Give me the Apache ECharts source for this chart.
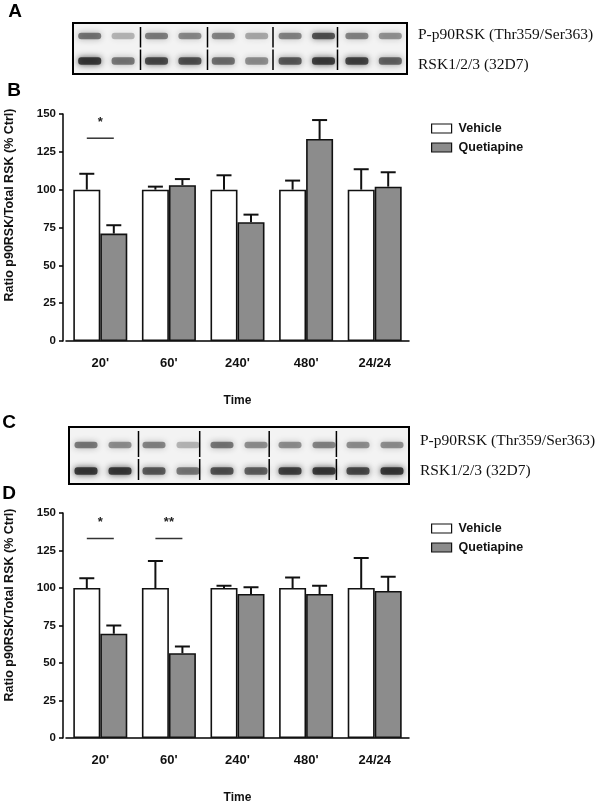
<!DOCTYPE html>
<html>
<head>
<meta charset="utf-8">
<script src="https://cdn.jsdelivr.net/npm/echarts@6/dist/echarts.min.js"></script>
<style>
html,body{margin:0;padding:0;background:#fff;}
#chart{width:600px;height:805px;}
</style>
</head>
<body>
<div id="chart"></div>
<script>
// ---------- data ----------
const categories = ["20'", "60'", "240'", "480'", "24/24"];
const seriesNames = ['Vehicle', 'Quetiapine'];

// Panel B
const vehicleB = [100, 100, 100, 100, 100];
const vehicleSemB = [10.5, 2, 9.5, 6, 13.5];
const quetiapineB = [71, 103, 78.5, 133.5, 102];
const quetiapineSemB = [5.5, 4, 5, 12.5, 9.5];
const sigB = [[0, 134, '*']];

// Panel D
const vehicleD = [100, 100, 100, 100, 100];
const vehicleSemD = [6.5, 18, 1.5, 7, 20];
const quetiapineD = [69.5, 56.5, 96, 96, 98];
const quetiapineSemD = [5.5, 4.5, 4.5, 5.5, 9.5];
const sigD = [[0, 133, '*'], [1, 133, '**']];

const yTicks = [0, 25, 50, 75, 100, 125, 150];

// Western blot band darkness (decorative images, 10 lanes)
const blotA_row1 = [0.62, 0.32, 0.58, 0.52, 0.55, 0.38, 0.55, 0.8, 0.55, 0.48];
const blotA_row2 = [0.95, 0.6, 0.85, 0.8, 0.65, 0.5, 0.75, 0.92, 0.88, 0.7];
const blotC_row1 = [0.6, 0.5, 0.55, 0.32, 0.62, 0.5, 0.5, 0.55, 0.5, 0.5];
const blotC_row2 = [0.95, 0.95, 0.75, 0.6, 0.8, 0.72, 0.9, 0.95, 0.85, 0.95];
const blotLabels = ['P-p90RSK (Thr359/Ser363)', 'RSK1/2/3 (32D7)'];

// ---------- helpers ----------
const SANS = "'Liberation Sans', Arial, sans-serif";
const SERIF = "'Liberation Serif', 'Times New Roman', serif";
const GRAY = '#8c8c8c';
const BAR_W = 27;

function errData(means, sems) {
  return means.map((m, i) => [i, m, m + sems[i]]);
}
function errRender(sign) {
  return function (params, api) {
    const p0 = api.coord([api.value(0), api.value(1)]);
    const p1 = api.coord([api.value(0), api.value(2)]);
    const cx = p0[0] + sign * BAR_W / 2;
    const style = { stroke: '#111', lineWidth: 2 };
    return {
      type: 'group',
      children: [
        { type: 'line', shape: { x1: cx, y1: p0[1], x2: cx, y2: p1[1] }, style },
        { type: 'line', shape: { x1: cx - 7.5, y1: p1[1], x2: cx + 7.5, y2: p1[1] }, style }
      ]
    };
  };
}
function sigRender(params, api) {
  const p = api.coord([api.value(0), api.value(1)]);
  const ps = api.coord([api.value(0), api.value(1) + 12]);
  return {
    type: 'group',
    children: [
      { type: 'line', shape: { x1: p[0] - 13.5, y1: p[1], x2: p[0] + 13.5, y2: p[1] },
        style: { stroke: '#333', lineWidth: 1.5 } },
      { type: 'text', x: p[0], y: ps[1] + 2,
        style: { text: api.value(2), fill: '#222', font: 'bold 13px ' + SANS,
                 textAlign: 'center', textVerticalAlign: 'middle' } }
    ]
  };
}

function blot(x, y, w, h, row1, row2, rowY1, rowY2, dividers, textY1, textY2) {
  const els = [];
  els.push({ type: 'rect', shape: { x: x, y: y, width: w, height: h },
    style: { fill: '#f3f3f3', stroke: '#000', lineWidth: 2 } });
  const pitch = w / 10;
  [[row1, rowY1, 6.5], [row2, rowY2, 7.5]].forEach(([row, ry, bh]) => {
    row.forEach((d, i) => {
      const cx = x + pitch * (i + 0.5);
      const c = 'rgba(30,30,30,' + (d * 0.85) + ')';
      els.push({ type: 'rect', shape: { x: cx - 11.5, y: ry - bh / 2, width: 23, height: bh, r: 3 },
        style: { fill: c, shadowBlur: 6, shadowColor: 'rgba(30,30,30,' + d + ')' } });
    });
  });
  dividers.forEach(dx => {
    els.push({ type: 'line', shape: { x1: dx, y1: y + 4, x2: dx, y2: (rowY1 + rowY2) / 2 - 1 },
      style: { stroke: '#000', lineWidth: 1.5 } });
    els.push({ type: 'line', shape: { x1: dx, y1: (rowY1 + rowY2) / 2 + 1, x2: dx, y2: y + h - 4 },
      style: { stroke: '#000', lineWidth: 1.5 } });
  });
  els.push({ type: 'text', x: x + w + 11, y: textY1,
    style: { text: blotLabels[0], font: '15.5px ' + SERIF, fill: '#111', textVerticalAlign: 'middle' } });
  els.push({ type: 'text', x: x + w + 11, y: textY2,
    style: { text: blotLabels[1], font: '15.5px ' + SERIF, fill: '#111', textVerticalAlign: 'middle' } });
  return els;
}

function panelLetter(t, x, y) {
  return { type: 'text', x: x, y: y,
    style: { text: t, font: 'bold 19px ' + SANS, fill: '#000', textAlign: 'center', textVerticalAlign: 'middle' } };
}
function yName(y) {
  return { type: 'text', x: 10, y: y, rotation: Math.PI / 2,
    style: { text: 'Ratio p90RSK/Total RSK (% Ctrl)', font: 'bold 12.5px ' + SANS, fill: '#111',
             textAlign: 'center', textVerticalAlign: 'middle' } };
}

function xAxisCfg(gi) {
  return {
    type: 'category', gridIndex: gi, data: categories,
    axisLine: { lineStyle: { color: '#000', width: 1.5 } },
    axisTick: { show: false },
    axisLabel: { color: '#111', fontFamily: SANS, fontWeight: 'bold', fontSize: 13, margin: 16 },
    name: 'Time', nameLocation: 'middle', nameGap: 54,
    nameTextStyle: { color: '#111', fontFamily: SANS, fontWeight: 'bold', fontSize: 12 }
  };
}
function yAxisCfg(gi) {
  return {
    type: 'value', gridIndex: gi, min: 0, max: 150, interval: 25, offset: 3,
    axisLine: { show: true, lineStyle: { color: '#000', width: 1.5 } },
    axisTick: { show: true, length: 4, lineStyle: { color: '#000', width: 1.5 } },
    axisLabel: { color: '#111', fontFamily: SANS, fontWeight: 'bold', fontSize: 11.5, margin: 7,
                 formatter: v => (yTicks.indexOf(v) >= 0 ? String(v) : '') },
    splitLine: { show: false }
  };
}
function barSeries(name, data, gi, color) {
  return {
    name: name, type: 'bar', xAxisIndex: gi, yAxisIndex: gi, data: data,
    barWidth: BAR_W, barGap: '0%',
    itemStyle: { color: color, borderColor: '#111', borderWidth: 1.6 },
    emphasis: { disabled: true }, z: 2
  };
}
function errSeries(name, data, gi, sign) {
  return { name: name, type: 'custom', xAxisIndex: gi, yAxisIndex: gi, data: data,
    renderItem: errRender(sign), z: 3, silent: true };
}
function sigSeries(data, gi) {
  return { type: 'custom', xAxisIndex: gi, yAxisIndex: gi, data: data,
    renderItem: sigRender, z: 3, silent: true };
}
function legendCfg(top) {
  return {
    data: seriesNames, orient: 'vertical', left: 426, top: top,
    itemWidth: 20, itemHeight: 9, itemGap: 6, icon: 'rect',
    itemStyle: { borderColor: '#111', borderWidth: 1.2 },
    textStyle: { color: '#111', fontFamily: SANS, fontWeight: 'bold', fontSize: 12.5, padding: [0, 0, 0, 2] },
    selectedMode: false
  };
}

const chart = echarts.init(document.getElementById('chart'), null, { renderer: 'canvas' });
chart.setOption({
  backgroundColor: '#fff',
  animation: false,
  grid: [
    { left: 66, width: 343, top: 114, height: 227 },
    { left: 66, width: 343, top: 513, height: 228 }
  ],
  xAxis: [xAxisCfg(0), xAxisCfg(1)],
  yAxis: [yAxisCfg(0), yAxisCfg(1)],
  legend: [legendCfg(117), legendCfg(517)],
  series: [
    barSeries('Vehicle', vehicleB, 0, '#ffffff'),
    barSeries('Quetiapine', quetiapineB, 0, GRAY),
    errSeries('Vehicle', errData(vehicleB, vehicleSemB), 0, -1),
    errSeries('Quetiapine', errData(quetiapineB, quetiapineSemB), 0, 1),
    sigSeries(sigB, 0),
    barSeries('Vehicle', vehicleD, 1, '#ffffff'),
    barSeries('Quetiapine', quetiapineD, 1, GRAY),
    errSeries('Vehicle', errData(vehicleD, vehicleSemD), 1, -1),
    errSeries('Quetiapine', errData(quetiapineD, quetiapineSemD), 1, 1),
    sigSeries(sigD, 1)
  ],
  graphic: [
    panelLetter('A', 15, 12),
    panelLetter('B', 14, 91),
    panelLetter('C', 9, 423),
    panelLetter('D', 9, 494),
    yName(205),
    yName(605)
  ]
    .concat(blot(73, 23, 334, 51, blotA_row1, blotA_row2, 36, 61, [140.5, 207.5, 273, 337.5], 35, 65))
    .concat(blot(69, 427, 340, 57, blotC_row1, blotC_row2, 445, 471, [138.5, 199.7, 269.2, 336.4], 441, 471))
});
</script>
</body>
</html>
